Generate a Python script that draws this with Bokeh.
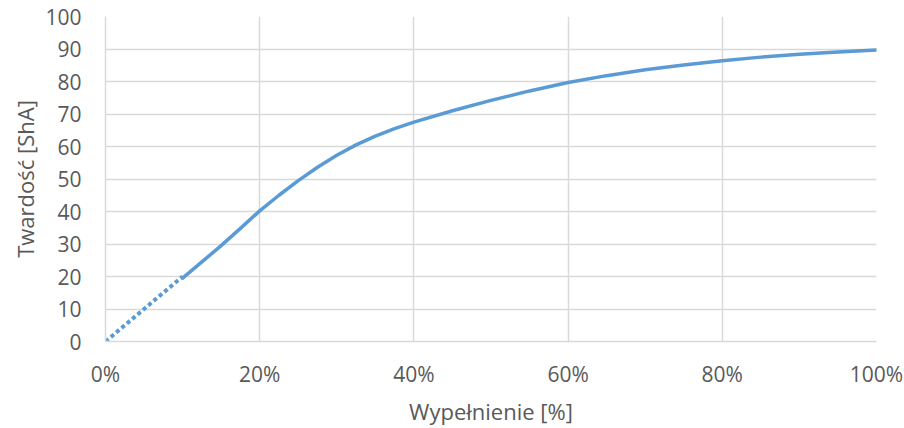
from bokeh.plotting import figure
from bokeh.models import Range1d, FixedTicker, CustomJSTickFormatter
from bokeh.embed import file_html
from bokeh.resources import INLINE

# Hardness vs. infill percentage
fill_pct = [10, 12.5, 15, 17.5, 20, 22.5, 25, 27.5, 30, 32.5, 35, 37.5, 40, 45, 50,
            55, 60, 65, 70, 75, 80, 85, 90, 95, 100]
hardness = [19.5, 24.5, 29.5, 34.8, 40.2, 45.0, 49.5, 53.6, 57.3, 60.5, 63.2, 65.5,
            67.5, 71.0, 74.2, 77.1, 79.7, 81.8, 83.6, 85.1, 86.4, 87.5, 88.4, 89.1, 89.7]

# extrapolated part towards zero infill
extra_pct = [0, 10]
extra_hard = [0, 20]

y_ticks = [0, 10, 20, 30, 40, 50, 60, 70, 80, 90, 100]
x_ticks = [0, 20, 40, 60, 80, 100]

GRID = "#d9d9d9"
TEXT = "#595959"
LINE = "#5b9bd5"
FONT = "Open Sans"

p = figure(width=904, height=428, output_backend="svg", toolbar_location=None,
           x_range=Range1d(0, 100), y_range=Range1d(0, 100),
           min_border_left=105, min_border_right=28, min_border_top=16,
           min_border_bottom=87)

p.outline_line_color = None
p.background_fill_color = "white"
p.border_fill_color = "white"

p.line(fill_pct, hardness, line_color=LINE, line_width=3.5, line_cap="round",
       line_join="round")
p.line(extra_pct, extra_hard, line_color=LINE, line_width=4, line_dash="4 3")

for g in (p.xgrid, p.ygrid):
    g.grid_line_color = GRID
    g.grid_line_width = 1.5

p.xaxis.ticker = FixedTicker(ticks=x_ticks)
p.yaxis.ticker = FixedTicker(ticks=y_ticks)
p.xgrid.ticker = FixedTicker(ticks=x_ticks)
p.ygrid.ticker = FixedTicker(ticks=y_ticks)
p.xaxis.formatter = CustomJSTickFormatter(code="return tick + '%';")

for ax in (p.xaxis, p.yaxis):
    ax.axis_line_color = GRID
    ax.axis_line_width = 1.5
    ax.major_tick_line_color = None
    ax.minor_tick_line_color = None
    ax.major_label_text_font = FONT
    ax.major_label_text_font_size = "21px"
    ax.major_label_text_color = TEXT
    ax.axis_label_text_font = FONT
    ax.axis_label_text_font_size = "22px"
    ax.axis_label_text_font_style = "normal"
    ax.axis_label_text_color = TEXT

p.xaxis.axis_label = "Wypełnienie [%]"
p.yaxis.axis_label = "Twardość [ShA]"
p.xaxis.major_label_standoff = 12
p.yaxis.major_label_standoff = 18
p.xaxis.axis_label_standoff = 5
p.yaxis.axis_label_standoff = 2

open("out.html", "w").write(file_html(p, INLINE))
